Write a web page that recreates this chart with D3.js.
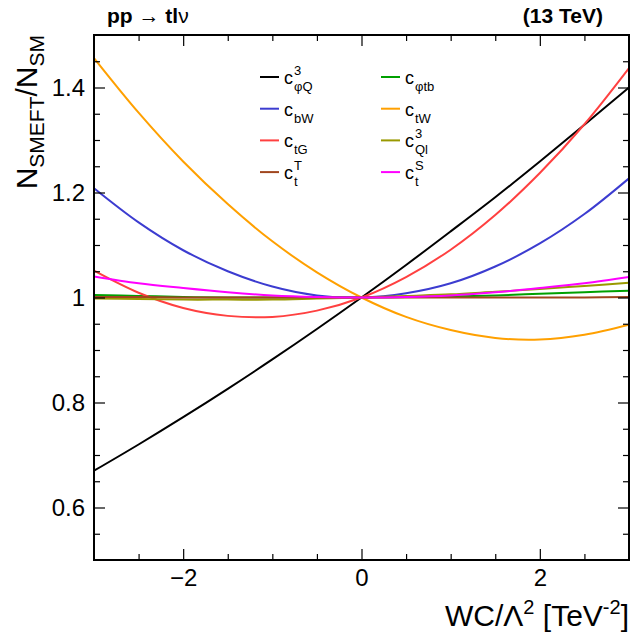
<!DOCTYPE html>
<html>
<head>
<meta charset="utf-8">
<script src="https://cdn.jsdelivr.net/npm/d3@7"></script>
<style>
body { margin: 0; background: #fff; }
text { font-family: "Liberation Sans", Arial, sans-serif; fill: #000; }
</style>
</head>
<body>
<svg width="630" height="635"></svg>
<script>
// Wilson coefficient values (x) and the ratio for each operator
var wc = [-3, -2.5, -2, -1.5, -1, -0.5, 0, 0.5, 1, 1.5, 2, 2.5, 3];

var c_phiQ3 = [0.670, 0.720, 0.772, 0.826, 0.882, 0.940, 1.000, 1.062, 1.126, 1.191, 1.259, 1.329, 1.400];
var c_phitb = [1.005, 1.003, 1.001, 1.000, 1.000, 1.000, 1.000, 1.001, 1.002, 1.004, 1.007, 1.010, 1.013];
var c_bW    = [1.208, 1.143, 1.090, 1.050, 1.021, 1.004, 1.000, 1.008, 1.027, 1.059, 1.103, 1.159, 1.227];
var c_tW    = [1.456, 1.352, 1.259, 1.178, 1.107, 1.048, 1.000, 0.963, 0.938, 0.923, 0.920, 0.929, 0.948];
var c_tG    = [1.051, 1.009, 0.980, 0.965, 0.963, 0.975, 1.000, 1.039, 1.091, 1.157, 1.237, 1.330, 1.437];
var c_Ql3   = [0.998, 0.997, 0.996, 0.996, 0.996, 0.998, 1.000, 1.003, 1.006, 1.011, 1.016, 1.022, 1.028];
var c_tT    = [1.001, 1.001, 1.000, 1.000, 1.000, 1.000, 1.000, 1.000, 1.000, 1.000, 1.000, 1.000, 1.001];
var c_tS    = [1.040, 1.027, 1.018, 1.010, 1.004, 1.001, 1.000, 1.001, 1.004, 1.010, 1.018, 1.027, 1.039];

// legend entries: main letter, subscript, superscript (two columns, row-major)
var series = [
    { vals: c_phiQ3, color: "#000000", sub: "\u03c6Q", sup: "3" },
    { vals: c_phitb, color: "#00a000", sub: "\u03c6tb", sup: "" },
    { vals: c_bW,    color: "#3c3cd0", sub: "bW", sup: "" },
    { vals: c_tW,    color: "#ffa000", sub: "tW", sup: "" },
    { vals: c_tG,    color: "#ff4040", sub: "tG", sup: "" },
    { vals: c_Ql3,   color: "#999900", sub: "Ql", sup: "3" },
    { vals: c_tT,    color: "#a0461e", sub: "t", sup: "T" },
    { vals: c_tS,    color: "#ff00ff", sub: "t", sup: "S" }
];

var xMajor = [-2, 0, 2],
    xMinor = [-2.5, -1.5, -1, -0.5, 0.5, 1, 1.5, 2.5],
    yMajor = [0.6, 0.8, 1.0, 1.2, 1.4],
    yMinor = [0.55, 0.65, 0.7, 0.75, 0.85, 0.9, 0.95, 1.05, 1.1, 1.15, 1.25, 1.3, 1.35, 1.45];

var svg = d3.select("svg"),
    pL = 94, pR = 629, pT = 35, pB = 560,
    x = d3.scaleLinear().domain([-3, 3]).range([pL, pR]),
    y = d3.scaleLinear().domain([0.5, 1.5]).range([pB, pT]);

svg.append("clipPath").attr("id", "frame")
    .append("rect")
    .attr("x", pL).attr("y", pT)
    .attr("width", pR - pL).attr("height", pB - pT);

// curves
var line = d3.line()
    .x((d, i) => x(wc[i]))
    .y(d => y(d))
    .curve(d3.curveCatmullRom);

svg.append("g").attr("clip-path", "url(#frame)")
    .selectAll("path")
    .data(series)
    .enter().append("path")
    .attr("fill", "none")
    .attr("stroke", d => d.color)
    .attr("stroke-width", 2)
    .attr("d", d => line(d.vals));

// axes (ROOT style: ticks inward, mirrored on top/right)
function ticks(axis, pos, values, size, fmt) {
    var g = svg.append("g").attr("transform", pos)
        .call(axis.tickValues(values).tickSize(size).tickPadding(9).tickFormat(fmt));
    g.select(".domain").remove();
    g.selectAll("line").attr("stroke", "#000").attr("stroke-width", 1.2);
    g.selectAll("text").style("font-size", "24px")
        .style("font-family", "'Liberation Sans', Arial, sans-serif");
    return g;
}
var fmtY = d => d === 1 ? "1" : d3.format(".1f")(d),
    fmtX = d => d < 0 ? "\u2212" + (-d) : String(d);

ticks(d3.axisBottom(x), "translate(0," + pB + ")", xMajor, -11, fmtX);
ticks(d3.axisBottom(x), "translate(0," + pB + ")", xMinor, -6, "");
ticks(d3.axisTop(x), "translate(0," + pT + ")", xMajor, -11, "");
ticks(d3.axisTop(x), "translate(0," + pT + ")", xMinor, -6, "");
ticks(d3.axisLeft(y), "translate(" + pL + ",0)", yMajor, -11, fmtY);
ticks(d3.axisLeft(y), "translate(" + pL + ",0)", yMinor, -6, "");
ticks(d3.axisRight(y), "translate(" + pR + ",0)", yMajor, -11, "");
ticks(d3.axisRight(y), "translate(" + pR + ",0)", yMinor, -6, "");

svg.append("rect")
    .attr("x", pL).attr("y", pT)
    .attr("width", pR - pL).attr("height", pB - pT)
    .attr("fill", "none").attr("stroke", "#000").attr("stroke-width", 2);

// axis titles
var xt = svg.append("text")
    .attr("x", pR).attr("y", 626)
    .attr("text-anchor", "end")
    .style("font-size", "30px");
xt.append("tspan").text("WC/\u039b");
xt.append("tspan").attr("dy", -12).style("font-size", "20px").text("2");
xt.append("tspan").attr("dy", 12).text(" [TeV");
xt.append("tspan").attr("dy", -12).style("font-size", "20px").text("-2");
xt.append("tspan").attr("dy", 12).text("]");

var yt = svg.append("text")
    .attr("transform", "translate(37," + pT + ") rotate(-90)")
    .attr("text-anchor", "end")
    .style("font-size", "30px");
yt.append("tspan").text("N");
yt.append("tspan").attr("dy", 7).style("font-size", "21px").text("SMEFT");
yt.append("tspan").attr("dy", -7).text("/N");
yt.append("tspan").attr("dy", 7).style("font-size", "21px").text("SM");

// header
var h = svg.append("text").attr("x", 107).attr("y", 23)
    .style("font-size", "21px").style("font-weight", "bold");
h.append("tspan").text("pp ");
h.append("tspan").style("font-weight", "normal").text(" \u2192 ");
h.append("tspan").text("tl");
h.append("tspan").style("font-weight", "normal").text("\u03bd");

svg.append("text").attr("x", 603).attr("y", 23)
    .attr("text-anchor", "end")
    .style("font-size", "21px").style("font-weight", "bold")
    .text("(13 TeV)");

// legend
var leg = svg.append("g").selectAll("g")
    .data(series)
    .enter().append("g")
    .attr("transform", (d, i) => "translate(" + (i % 2 ? 381 : 260) + "," + (77 + Math.floor(i / 2) * 31.7) + ")");

leg.append("line")
    .attr("x1", 0).attr("x2", 19)
    .attr("stroke", d => d.color).attr("stroke-width", 2);
leg.append("text").attr("x", 24).attr("y", 7)
    .style("font-size", "18px").text("c");
leg.append("text").attr("x", 34).attr("y", 14)
    .style("font-size", "13px").text(d => d.sub);
leg.append("text").attr("x", 34).attr("y", -2)
    .style("font-size", "13px").text(d => d.sup);
</script>
</body>
</html>
